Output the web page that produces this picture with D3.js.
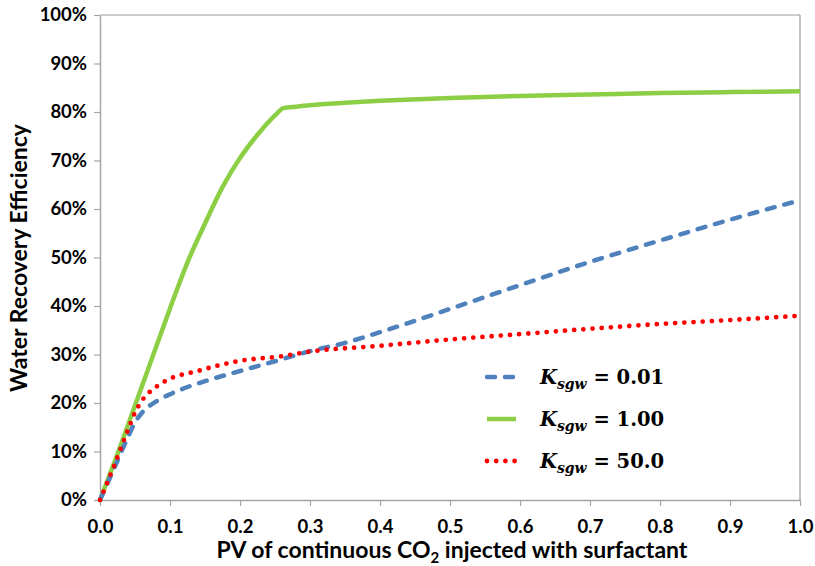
<!DOCTYPE html>
<html>
<head>
<script src="https://d3js.org/d3.v7.min.js"></script>
<style>
  body { margin: 0; background: #fff; }
  text { font-family: Lato, "Open Sans", sans-serif; font-weight: bold; }
</style>
</head>
<body>
<svg id="chart" width="815" height="566"></svg>
<script>
// data (x = PV injected, y = efficiency %)
var pvBlue = [0, 0.02, 0.04, 0.05, 0.06, 0.08, 0.1, 0.125, 0.15, 0.2, 0.25, 0.3, 0.35, 0.4, 0.5, 0.6, 0.7, 0.8, 0.9, 1.0];
var effBlue = [0, 6.5, 13, 16, 18, 20.3, 21.8, 23.3, 24.5, 26.6, 28.6, 30.7, 32.4, 34.6, 39.4, 44.3, 49.1, 53.5, 57.8, 61.8];

var pvGreen = [0, 0.025, 0.05, 0.075, 0.1, 0.125, 0.15, 0.175, 0.2, 0.225, 0.25, 0.262, 0.28, 0.3, 0.35, 0.4, 0.5, 0.6, 0.7, 0.8, 0.9, 1.0];
var effGreen = [0, 9.5, 19.5, 29.5, 39.5, 49, 57, 64.5, 70.5, 75.3, 79.3, 80.8, 81.1, 81.4, 81.9, 82.3, 82.9, 83.3, 83.6, 83.9, 84.1, 84.3];

var pvRed = [0, 0.02, 0.04, 0.05, 0.06, 0.08, 0.1, 0.14, 0.165, 0.2, 0.257, 0.3, 0.4, 0.5, 0.6, 0.7, 0.8, 0.9, 1.0];
var effRed = [0, 7, 14.5, 18, 20.5, 23.3, 25, 26.6, 27.6, 28.7, 29.6, 30.6, 31.8, 33.1, 34.2, 35.3, 36.3, 37.1, 38.0];

var legendValues = ["0.01", "1.00", "50.0"];
var xTicks = [0, 0.1, 0.2, 0.3, 0.4, 0.5, 0.6, 0.7, 0.8, 0.9, 1.0];
var yTicks = [0, 10, 20, 30, 40, 50, 60, 70, 80, 90, 100];

var svg = d3.select("#chart");
var mLeft = 100, mRight = 800, mTop = 15, mBottom = 500;

var x = d3.scaleLinear().domain([0, 1]).range([mLeft, mRight]);
var y = d3.scaleLinear().domain([0, 100]).range([mBottom, mTop]);

var axisColor = "#a6a6a6";

// plot border (top and right)
svg.append("line").attr("x1", mLeft).attr("x2", mRight).attr("y1", mTop).attr("y2", mTop)
   .attr("stroke", "#999").attr("stroke-width", 1.2);
svg.append("line").attr("x1", mRight).attr("x2", mRight).attr("y1", mTop).attr("y2", mBottom)
   .attr("stroke", "#999").attr("stroke-width", 1.2);

var xAxis = svg.append("g").attr("transform", "translate(0," + mBottom + ")")
  .call(d3.axisBottom(x).tickValues(xTicks).tickFormat(d3.format(".1f")).tickSize(6).tickSizeOuter(0));
var yAxis = svg.append("g").attr("transform", "translate(" + mLeft + ",0)")
  .call(d3.axisLeft(y).tickValues(yTicks).tickFormat(d => d + "%").tickSize(6).tickSizeOuter(0));

[xAxis, yAxis].forEach(function(g) {
  g.select(".domain").attr("stroke", axisColor).attr("stroke-width", 1.5);
  g.selectAll(".tick line").attr("stroke", axisColor).attr("stroke-width", 1.2);
  g.selectAll(".tick text").attr("fill", "#000").style("font-size", "18.5px")
   .style("font-family", "Lato, sans-serif").style("font-weight", "bold");
});
xAxis.selectAll(".tick text").attr("dy", "1.3em");
yAxis.selectAll(".tick text").attr("x", -13);

// axis titles
svg.append("text").attr("x", 452).attr("y", 558).attr("text-anchor", "middle")
  .style("font-size", "23px")
  .call(function(t) {
    t.append("tspan").text("PV of continuous CO");
    t.append("tspan").attr("dy", 5).style("font-size", "15px").text("2");
    t.append("tspan").attr("dy", -5).text(" injected with surfactant");
  });
svg.append("text").attr("transform", "translate(27,258) rotate(-90)")
  .attr("text-anchor", "middle").style("font-size", "23px")
  .text("Water Recovery Efficiency");

function toPoints(xs, ys) { return xs.map((v, i) => [v, ys[i]]); }
var line = d3.line().x(d => x(d[0])).y(d => y(d[1])).curve(d3.curveMonotoneX);

var series = [
  {pts: toPoints(pvGreen, effGreen), color: "#8ccf45", dash: null, cap: "butt", w: 4.5},
  {pts: toPoints(pvBlue, effBlue), color: "#4f81bd", dash: "8 10", cap: "round", w: 4.5},
  {pts: toPoints(pvRed, effRed), color: "#ff0000", dash: "0 9.2", cap: "round", w: 4.8}
];
// draw order: green, blue, red on top
series.forEach(function(s) {
  svg.append("path").datum(s.pts).attr("d", line)
    .attr("fill", "none").attr("stroke", s.color).attr("stroke-width", s.w)
    .attr("stroke-linecap", s.cap).attr("stroke-dasharray", s.dash);
});

// legend
var legendOrder = [series[1], series[0], series[2]];
var lg = svg.append("g");
legendOrder.forEach(function(s, i) {
  var ly = 377 + i * 42;
  lg.append("line").attr("x1", 487).attr("x2", 516).attr("y1", ly).attr("y2", ly)
    .attr("stroke", s.color).attr("stroke-width", s.w).attr("stroke-linecap", s.cap)
    .attr("stroke-dasharray", s.dash);
  var t = lg.append("text").attr("x", 540).attr("y", ly + 7)
    .style("font-family", "'DejaVu Serif', serif").style("font-size", "19.5px");
  t.append("tspan").style("font-style", "italic").text("K");
  t.append("tspan").attr("dy", 5).style("font-style", "italic").style("font-size", "14px").text("sgw");
  t.append("tspan").attr("dy", -5).text(" = " + legendValues[i]);
});
</script>
</body>
</html>
